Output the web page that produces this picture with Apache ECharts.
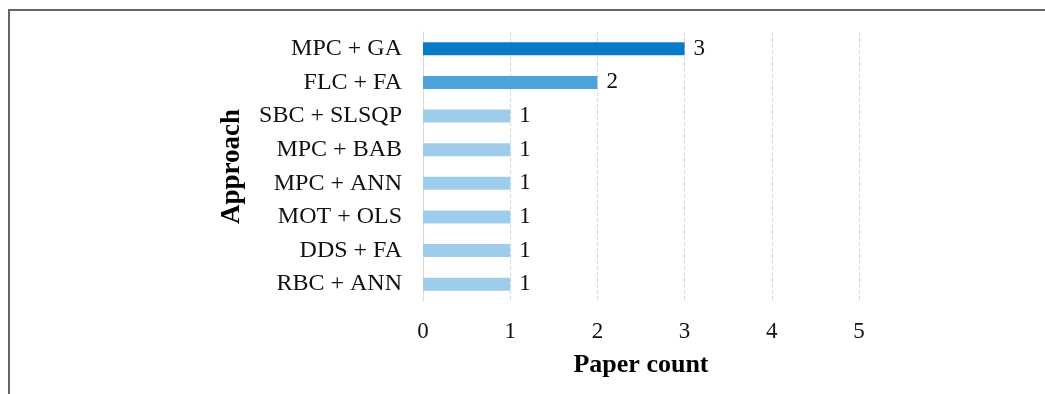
<!DOCTYPE html>
<html>
<head>
<meta charset="utf-8">
<script src="https://cdn.jsdelivr.net/npm/echarts@6/dist/echarts.min.js"></script>
<style>
  html, body { margin: 0; padding: 0; background: #fff; }
  #chart { width: 1045px; height: 394px; }
</style>
</head>
<body>
<div id="chart"></div>
<script>
// data (top to bottom as in the picture)
const approaches = ['MPC + GA', 'FLC + FA', 'SBC + SLSQP', 'MPC + BAB', 'MPC + ANN', 'MOT + OLS', 'DDS + FA', 'RBC + ANN'];
const paperCounts = [3, 2, 1, 1, 1, 1, 1, 1];
const xTicks = [0, 1, 2, 3, 4, 5];

// bar colours by count
function barColor(v) {
  if (v >= 3) return '#0a7bc8';
  if (v === 2) return '#4ca3d9';
  return '#9ecdeb';
}

const serif = '"Liberation Serif", "Times New Roman", serif';
const chart = echarts.init(document.getElementById('chart'));

const option = {
  animation: false,
  grid: { left: 423, right: 186, top: 32, bottom: 93 },
  graphic: [{
    type: 'rect',
    shape: { x: 9, y: 10, width: 1100, height: 500 },
    style: { fill: 'none', stroke: '#666', lineWidth: 2 }
  }],
  xAxis: {
    type: 'value',
    min: xTicks[0],
    max: xTicks[xTicks.length - 1],
    interval: 1,
    name: 'Paper count',
    nameLocation: 'middle',
    nameGap: 51,
    nameTextStyle: { fontFamily: serif, fontSize: 26, fontWeight: 'bold', color: '#000' },
    axisLine: { show: false },
    axisTick: { show: false },
    axisLabel: { fontFamily: serif, fontSize: 23, color: '#111', margin: 19 },
    splitLine: { lineStyle: { color: '#d9d9d9', type: 'dashed', width: 1 } }
  },
  yAxis: {
    type: 'category',
    inverse: true,
    data: approaches,
    name: 'Approach',
    nameLocation: 'middle',
    nameGap: 177,
    nameRotate: 90,
    nameTextStyle: { fontFamily: serif, fontSize: 27, fontWeight: 'bold', color: '#000' },
    axisLine: { show: true, lineStyle: { color: '#d9d9d9', width: 1 } },
    axisTick: { show: false },
    axisLabel: { fontFamily: serif, fontSize: 24, color: '#111', margin: 21 }
  },
  series: [{
    type: 'bar',
    data: paperCounts.map(v => ({ value: v, itemStyle: { color: barColor(v) } })),
    barWidth: 13,
    label: {
      show: true,
      position: 'right',
      distance: 9,
      fontFamily: serif,
      fontSize: 23,
      color: '#111'
    }
  }]
};

chart.setOption(option);
</script>
</body>
</html>
